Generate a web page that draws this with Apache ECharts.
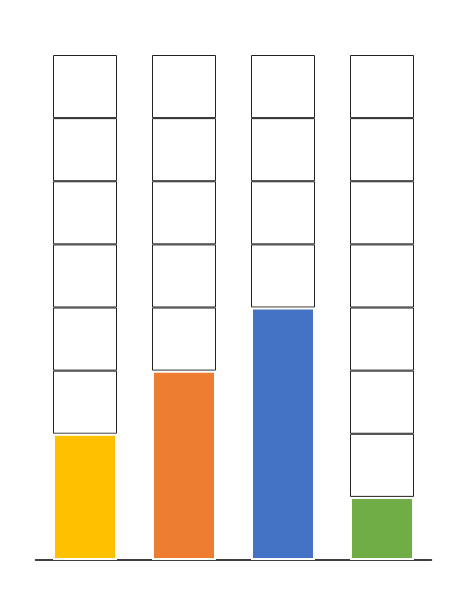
<!DOCTYPE html>
<html><head><meta charset="utf-8">
<script src="https://cdn.jsdelivr.net/npm/echarts@6/dist/echarts.min.js"></script>
<style>html,body{margin:0;padding:0;background:#fff}#c{width:474px;height:613px}</style>
</head><body><div id="c"></div>
<script>
var categories = ['A', 'B', 'C', 'D'];
var values = [2, 3, 4, 1];
var colors = ['#FFC000', '#ED7D31', '#4472C4', '#70AD47'];
var cellCount = 8;

var series = [];
// empty grid cells, one stacked series per row
for (var i = 0; i < cellCount; i++) {
    series.push({
        type: 'bar', stack: 'cells', barWidth: 64, barGap: '-100%', silent: true,
        itemStyle: { color: '#fff', borderColor: '#222', borderWidth: 1 },
        data: categories.map(function () { return 1; })
    });
}
// filled bars
series.push({
    type: 'bar', barWidth: 64, barGap: '-100%', z: 5,
    data: values.map(function (v, i) {
        return { value: v, itemStyle: { color: colors[i], borderColor: '#fff', borderWidth: 2 } };
    })
});

var chart = echarts.init(document.getElementById('c'));
chart.setOption({
    animation: false,
    grid: { left: 35.5, right: 42.5, top: 55, bottom: 53 },
    xAxis: {
        type: 'category', data: categories,
        axisLine: { lineStyle: { color: '#000', width: 1.5 } },
        axisTick: { show: false }, axisLabel: { show: false }
    },
    yAxis: { type: 'value', min: 0, max: cellCount, show: false, splitLine: { show: false } },
    series: series
});
</script></body></html>
